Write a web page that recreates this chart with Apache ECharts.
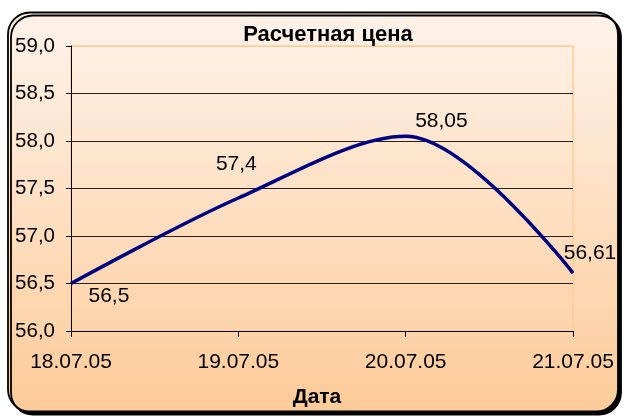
<!DOCTYPE html>
<html>
<head>
<meta charset="utf-8">
<script src="https://cdn.jsdelivr.net/npm/echarts@6/dist/echarts.min.js"></script>
<style>
  html, body { margin: 0; padding: 0; background: #fff; }
  #chart { width: 624px; height: 418px; }
</style>
</head>
<body>
<div id="chart"></div>
<script>
// chart data
var dates = ["18.07.05", "19.07.05", "20.07.05", "21.07.05"];
var prices = [56.5, 57.4, 58.05, 56.61];
var yTicks = { min: 56, max: 59, step: 0.5 };

var chart = echarts.init(document.getElementById("chart"));

function comma(v) {
  return String(v).replace(".", ",");
}

// label placement per point (Excel put them around the curve)
var labelPlace = [
  { position: "right", distance: 17, offset: [0, 13] },
  { position: "top", distance: 23, offset: [-2, 0] },
  { position: "right", distance: 9, offset: [0, -15] },
  { position: "top", distance: 9, offset: [17, 0] }
];

var seriesData = prices.map(function (v, i) {
  return { value: v, label: labelPlace[i] };
});

var splitColors = [];
for (var t = yTicks.min; t < yTicks.max; t += yTicks.step) splitColors.push("#222");
splitColors.push("#FFCC99");

var option = {
  animation: false,
  textStyle: { fontFamily: "Liberation Sans, Arial, sans-serif" },
  graphic: [
    {
      type: "rect",
      z: -10,
      shape: { x: 8, y: 12.5, width: 610, height: 399, r: 22 },
      style: {
        fill: new echarts.graphic.LinearGradient(0, 0, 0, 1, [
          { offset: 0, color: "#FEF3EA" },
          { offset: 1, color: "#FECB99" }
        ]),
        stroke: "#000",
        lineWidth: 1.8,
        shadowColor: "#000",
        shadowBlur: 0,
        shadowOffsetX: 3,
        shadowOffsetY: 3
      }
    }
  ],
  title: {
    text: "Расчетная цена",
    left: 323,
    textAlign: "center",
    top: 19,
    textStyle: { fontSize: 22, fontWeight: "bold", color: "#000" }
  },
  grid: {
    left: 71,
    right: 51,
    top: 46,
    bottom: 87,
    show: true,
    borderColor: "#FFCC99",
    borderWidth: 1.5,
    backgroundColor: "transparent"
  },
  xAxis: {
    type: "category",
    data: dates,
    boundaryGap: false,
    name: "Дата",
    nameLocation: "middle",
    nameGap: 56,
    nameTextStyle: { fontSize: 21, fontWeight: "bold", color: "#000", padding: [0, 10, 0, 0] },
    axisLine: { lineStyle: { color: "#000", width: 1 } },
    axisTick: { show: true, length: 6, lineStyle: { color: "#000" } },
    axisLabel: { fontSize: 21, color: "#000", margin: 21 },
    splitLine: { show: false }
  },
  yAxis: {
    type: "value",
    min: yTicks.min,
    max: yTicks.max,
    interval: yTicks.step,
    axisLine: { show: true, lineStyle: { color: "#000", width: 1 } },
    axisTick: { show: true, length: 5, lineStyle: { color: "#000" } },
    axisLabel: {
      fontSize: 20.5,
      color: "#000",
      margin: 16,
      formatter: function (v) { return v.toFixed(1).replace(".", ","); }
    },
    splitLine: { show: true, lineStyle: { color: splitColors, width: 1 } }
  },
  series: [
    {
      type: "line",
      data: seriesData,
      smooth: 0.33,
      symbol: "circle",
      symbolSize: 1,
      itemStyle: { color: "rgba(0,0,0,0)" },
      lineStyle: { color: "#000080", width: 3.5 },
      label: {
        show: true,
        fontSize: 21,
        color: "#000",
        formatter: function (p) { return comma(p.value); }
      },
      emphasis: { disabled: true }
    }
  ]
};

chart.setOption(option);
</script>
</body>
</html>
